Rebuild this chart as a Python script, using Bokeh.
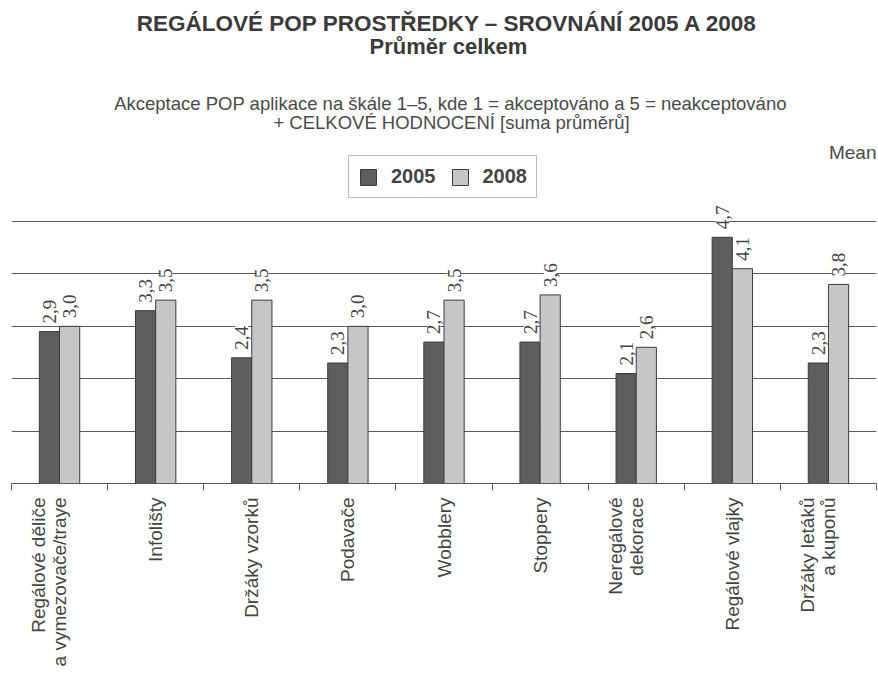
import numpy as np
from bokeh.plotting import figure
from bokeh.models import (Range1d, FixedTicker, Label, LabelSet, Legend,
                          LegendItem, ColumnDataSource)
from bokeh.embed import file_html
from bokeh.resources import INLINE

# ---- data ----
categories = ["Regálové děliče\na vymezovače/traye", "Infolišty", "Držáky vzorků",
              "Podavače", "Wobblery", "Stoppery", "Neregálové\ndekorace",
              "Regálové vlajky", "Držáky letáků\na kuponů"]
values_2005 = [2.9, 3.3, 2.4, 2.3, 2.7, 2.7, 2.1, 4.7, 2.3]
values_2008 = [3.0, 3.5, 3.5, 3.0, 3.5, 3.6, 2.6, 4.1, 3.8]
series_names = ["2005", "2008"]
grid_values = [1, 2, 3, 4, 5]

title_text = "REGÁLOVÉ POP PROSTŘEDKY – SROVNÁNÍ 2005 A 2008"
title_text2 = "Průměr celkem"
subtitle1 = "Akceptace POP aplikace na škále 1–5, kde 1 = akceptováno a 5 = neakceptováno"
subtitle2 = "+ CELKOVÉ HODNOCENÍ [suma průměrů]"
unit_text = "Mean"

FONT = "Liberation Sans"
C_2005 = "#5e5e5e"
C_2008 = "#c6c6c6"
C_EDGE = "#3c3c3c"
C_LINE = "#5a5a5a"
C_TEXT = "#444444"

n = len(categories)
centers = np.arange(n) + 0.5
bw = 0.21

p = figure(width=878, height=681, output_backend="svg", toolbar_location=None,
           x_range=Range1d(0, n), y_range=Range1d(0, 9.22),
           min_border_left=11, min_border_right=2, min_border_top=0,
           min_border_bottom=198, outline_line_color=None)
p.title.visible = False

src = ColumnDataSource(dict(
    x05=centers - bw / 2, x08=centers + bw / 2,
    v05=values_2005, v08=values_2008,
    t05=[f"{v:.1f}".replace(".", ",") for v in values_2005],
    t08=[f"{v:.1f}".replace(".", ",") for v in values_2008],
))

r05 = p.vbar(x="x05", top="v05", width=bw, source=src, fill_color=C_2005,
             line_color=C_EDGE, line_width=1)
r08 = p.vbar(x="x08", top="v08", width=bw, source=src, fill_color=C_2008,
             line_color=C_EDGE, line_width=1)

for xcol, ycol, tcol in [("x05", "v05", "t05"), ("x08", "v08", "t08")]:
    ls = LabelSet(x=xcol, y=ycol, text=tcol, source=src, angle=np.pi / 2,
                  y_offset=8, text_align="left", text_baseline="middle",
                  text_font=FONT, text_font_size="19px", text_color=C_TEXT,
                  background_fill_color="white")
    p.add_layout(ls)

# grid
p.xgrid.visible = False
p.ygrid.ticker = FixedTicker(ticks=grid_values)
p.ygrid.grid_line_color = C_LINE
p.ygrid.grid_line_width = 1
p.yaxis.visible = False

# x axis: two-line labels keep their last line centred on the category
def tick_label(lab):
    return lab + "\n " if "\n" in lab else lab

p.xaxis.ticker = FixedTicker(ticks=list(centers), minor_ticks=list(range(n + 1)))
p.xaxis.major_label_overrides = {float(c): tick_label(lab) for c, lab in zip(centers, categories)}
p.xaxis.major_tick_line_color = None
p.xaxis.major_tick_out = 7
p.xaxis.major_tick_in = 0
p.xaxis.minor_tick_out = 7
p.xaxis.minor_tick_in = 0
p.xaxis.minor_tick_line_color = C_LINE
p.xaxis.axis_line_color = C_LINE
p.xaxis.major_label_orientation = np.pi / 2
p.xaxis.major_label_standoff = 7
p.xaxis.major_label_text_font = FONT
p.xaxis.major_label_text_font_size = "19px"
p.xaxis.major_label_text_color = C_TEXT
p.xaxis.major_label_text_line_height = 1.0

# legend
legend = Legend(items=[LegendItem(label=series_names[0], renderers=[r05]),
                       LegendItem(label=series_names[1], renderers=[r08])],
                location=(337, 285), orientation="horizontal",
                border_line_color="#777777", border_line_width=1.5,
                label_text_font=FONT, label_text_font_size="20px",
                label_text_font_style="bold", label_text_color=C_TEXT,
                glyph_width=20, glyph_height=20, label_height=20,
                label_standoff=13, spacing=14, padding=9, margin=0)
p.add_layout(legend)

# header texts (screen units relative to plot frame: left=11, bottom=483)
def add_text(txt, cx, baseline, size, bold=False, align="center", color="#3a3a3a"):
    p.add_layout(Label(x=cx - 11, y=483 - baseline, x_units="screen", y_units="screen",
                       text=txt, text_align=align, text_baseline="alphabetic",
                       text_font=FONT, text_font_size=size,
                       text_font_style="bold" if bold else "normal",
                       text_color=color))

add_text(title_text, 447, 23, "22.5px", bold=True)
add_text(title_text2, 448, 46, "22px", bold=True)
add_text(subtitle1, 450, 103, "18.5px", color="#4a4a4a")
add_text(subtitle2, 451, 122, "18.5px", color="#4a4a4a")
add_text(unit_text, 876, 152, "19px", align="right", color="#4a4a4a")

open("out.html", "w").write(file_html(p, INLINE))
